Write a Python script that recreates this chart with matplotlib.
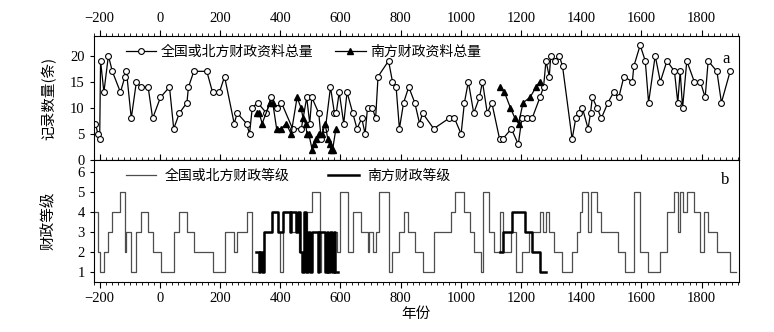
import numpy as np
import matplotlib
matplotlib.use("Agg")
import matplotlib.pyplot as plt
from matplotlib.ticker import MultipleLocator

plt.rcParams['font.family'] = ['Liberation Serif', 'Noto Sans CJK SC']
cjk = ['Noto Sans CJK SC', 'DejaVu Sans']

# 记录数量 (全国或北方)
north_year = [-214, -206, -200, -197, -186, -171, -158, -131, -116, -111, -95, -78, -64, -39, -24,
              2, 32, 46, 65, 90, 95, 113, 156, 175, 198, 215, 247, 257, 288, 298,
              307, 325, 354, 369, 389, 404, 441, 470, 488, 498, 505, 528, 536, 550, 567,
              580, 586, 596, 611, 622, 641, 655, 671, 682, 690, 706, 717, 725, 760, 773,
              785, 796, 810, 827, 847, 863, 873, 910, 961, 979, 1001, 1012, 1025, 1043, 1062,
              1072, 1088, 1103, 1129, 1139, 1168, 1191, 1203, 1219, 1237, 1263, 1275, 1283, 1294, 1299,
              1313, 1327, 1338, 1370, 1382, 1393, 1404, 1423, 1431, 1437, 1453, 1467, 1489, 1508, 1525,
              1542, 1570, 1575, 1596, 1613, 1624, 1646, 1663, 1685, 1710, 1721, 1729, 1737, 1751, 1776,
              1796, 1812, 1822, 1851, 1866, 1895]
north_count = [7, 5, 4, 19, 13, 20, 17, 13, 16, 17, 8, 15, 14, 14, 8,
               12, 14, 6, 9, 11, 14, 17, 17, 13, 13, 16, 7, 9, 7, 5,
               10, 11, 9, 12, 10, 11, 6, 6, 12, 7, 12, 9, 4, 6, 14,
               9, 9, 13, 7, 13, 9, 6, 8, 5, 10, 10, 8, 16, 19, 15,
               14, 6, 11, 14, 11, 7, 9, 6, 8, 8, 5, 11, 15, 9, 12,
               15, 9, 11, 4, 4, 6, 3, 8, 8, 8, 12, 14, 19, 16, 20,
               19, 20, 18, 4, 8, 9, 10, 6, 9, 12, 10, 8, 11, 13, 12,
               16, 15, 18, 22, 19, 11, 20, 15, 19, 17, 11, 17, 10, 19, 15,
               15, 12, 19, 17, 11, 17]

# 记录数量 (南方), nan = gap
south_year = [323, 330, 340, 366, 375, 388, 403, 420, 436, 456, 469, 476, 484, 489, 495,
              506, 512, 519, 529, 540, 549, 558, 564, 569, 574, 585, 850,
              1129, 1145, 1165, 1180, 1192, 1207, 1230, 1250, 1262]
south_count = [9, 9, 7, 11, 11, 6, 6, 7, 5, 12, 10, 8, 7, 5, 5,
               2, 3, 4, 5, 5, 7, 4, 3, 2, 2, 6, np.nan,
               14, 13, 10, 8, 7, 11, 12, 14, 15]

# 财政等级 (step starts, last entry = end)
ng_year = [-220, -205, -200, -186, -171, -158, -131, -116, -113, -95, -78, -64, -39, -23, 4,
           46, 65, 90, 114, 176, 216, 246, 255, 288, 307, 330, 345, 371, 393, 398,
           409, 437, 453, 464, 475, 488, 506, 531, 536, 550, 567, 590, 597, 624, 641,
           668, 690, 696, 707, 718, 727, 760, 773, 795, 812, 826, 848, 874, 911, 966,
           982, 1012, 1029, 1045, 1068, 1073, 1093, 1109, 1131, 1139, 1168, 1185, 1203, 1225, 1263,
           1274, 1282, 1293, 1311, 1335, 1371, 1385, 1396, 1404, 1423, 1431, 1453, 1467, 1522, 1544,
           1575, 1594, 1621, 1662, 1685, 1710, 1721, 1729, 1737, 1751, 1774, 1796, 1809, 1822, 1851,
           1894, 1913]
ng_level = [4, 2, 1, 2, 3, 4, 5, 2, 3, 1, 3, 4, 3, 2, 1,
            3, 4, 3, 2, 1, 3, 2, 3, 4, 1, 2, 3, 4, 3, 1,
            4, 3, 4, 2, 1, 4, 5, 1, 3, 2, 3, 2, 5, 2, 4,
            3, 2, 3, 2, 3, 5, 1, 2, 3, 4, 3, 2, 1, 3, 4,
            5, 4, 3, 2, 1, 5, 3, 2, 4, 2, 3, 1, 2, 3, 4,
            3, 4, 3, 2, 1, 2, 3, 4, 5, 3, 5, 4, 3, 2, 1,
            5, 2, 1, 2, 4, 5, 3, 5, 4, 5, 4, 2, 4, 3, 2,
            1, 1]

# 南方等级, two periods
sg_year_1 = [321, 328, 334, 340, 345, 371, 393, 409, 432, 437, 453, 460, 466, 472, 478,
             486, 493, 500, 505, 525, 530, 549, 556, 560, 566, 573, 578, 583, 593]
sg_level_1 = [2, 1, 2, 1, 3, 4, 3, 4, 3, 4, 3, 4, 2, 1, 4,
              1, 3, 1, 3, 1, 3, 1, 3, 1, 3, 1, 3, 1, 1]
sg_year_2 = [1129, 1140, 1170, 1214, 1238, 1263, 1282]
sg_level_2 = [2, 3, 4, 3, 2, 1, 1]

fig = plt.figure(figsize=(7.74, 3.32), dpi=100)
ax1 = fig.add_axes([0.121, 0.518, 0.834, 0.374])
ax2 = fig.add_axes([0.121, 0.151, 0.834, 0.367])

ax1.plot(north_year, north_count, '-o', color='k', lw=0.9, ms=4.2, mfc='white', mec='k', mew=0.8,
         label='全国或北方财政资料总量')
ax1.plot(south_year, south_count, '-^', color='k', lw=0.9, ms=4.0, mfc='k', mec='k',
         label='南方财政资料总量')
ax1.set_xlim(-220, 1925)
ax1.set_ylim(0, 23.8)
ax1.set_yticks([0, 5, 10, 15, 20])
ax1.xaxis.tick_top()
ax1.xaxis.set_major_locator(MultipleLocator(200))
ax1.xaxis.set_minor_locator(MultipleLocator(20))
ax1.tick_params(axis='x', which='both', top=True, bottom=False, direction='out', labelsize=10.5)
ax1.tick_params(axis='x', which='major', length=4)
ax1.tick_params(axis='x', which='minor', length=2)
ax1.tick_params(axis='y', labelsize=10.5, length=3)
ax1.set_ylabel('记录数量(条)', family=cjk, fontsize=10.5)
ax1.text(0.985, 0.78, 'a', transform=ax1.transAxes, ha='right', fontsize=12)
ax1.legend(loc='upper left', bbox_to_anchor=(0.03, 1.03), ncol=2, frameon=False,
           prop={'family': cjk, 'size': 10}, handlelength=2.2, handletextpad=0.3,
           columnspacing=1.6)

ax2.step(ng_year, ng_level, where='post', color='0.3', lw=0.9, label='全国或北方财政等级')
ax2.step(sg_year_1, sg_level_1, where='post', color='k', lw=1.8, label='南方财政等级')
ax2.step(sg_year_2, sg_level_2, where='post', color='k', lw=1.8)
ax2.set_xlim(-220, 1925)
ax2.set_ylim(0.5, 6.6)
ax2.set_yticks([1, 2, 3, 4, 5, 6])
ax2.xaxis.set_major_locator(MultipleLocator(200))
ax2.xaxis.set_minor_locator(MultipleLocator(20))
ax2.tick_params(axis='x', which='both', top=True, bottom=True, direction='out', labelsize=10.5)
ax2.tick_params(axis='x', which='major', length=4)
ax2.tick_params(axis='x', which='minor', length=2)
ax2.tick_params(axis='y', labelsize=10.5, length=3)
ax2.set_ylabel('财政等级', family=cjk, fontsize=10.5)
ax2.set_xlabel('年份', family=cjk, fontsize=10.5, labelpad=1)
ax2.text(0.985, 0.8, 'b', transform=ax2.transAxes, ha='right', fontsize=12)
ax2.legend(loc='upper left', bbox_to_anchor=(0.03, 1.03), ncol=2, frameon=False,
           prop={'family': cjk, 'size': 10}, handlelength=2.2, handletextpad=0.6,
           columnspacing=2.8)

ax1.yaxis.set_label_coords(-0.058, 0.5)
ax2.yaxis.set_label_coords(-0.058, 0.5)

fig.savefig('out.png', dpi=100)
